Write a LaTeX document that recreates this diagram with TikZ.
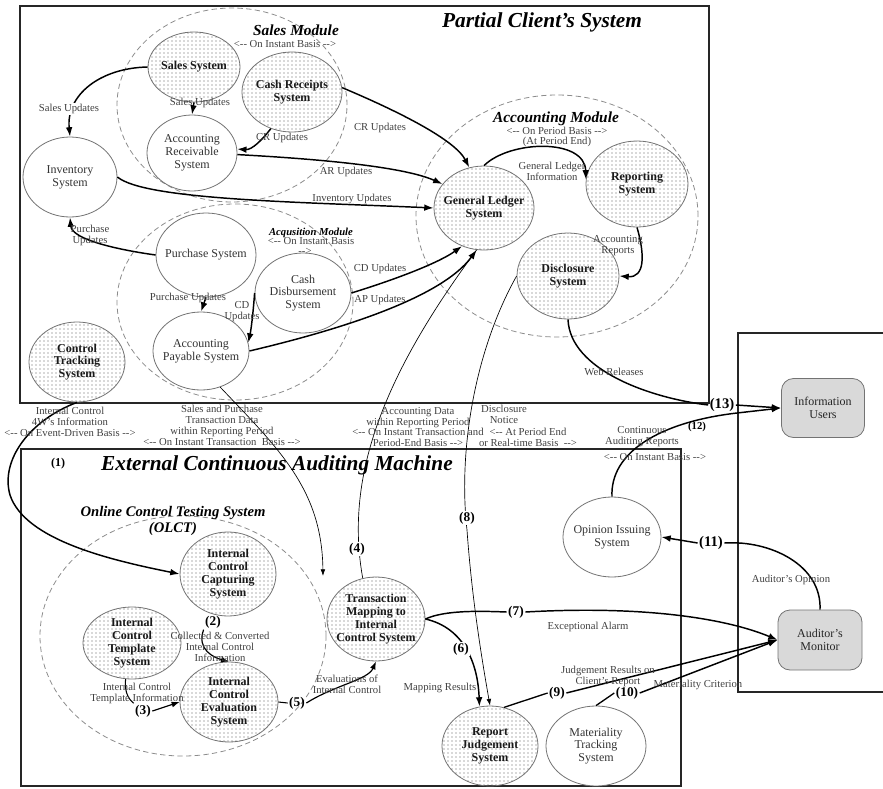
\documentclass[tikz,border=0pt]{standalone}
\usepackage{fontspec}
\setmainfont{Liberation Serif}
\usetikzlibrary{patterns,shapes.geometric,arrows.meta}
\newcommand\myL{<-{}-}
\newcommand\myR{-{}->}
\begin{document}
\begin{tikzpicture}[x=0.75pt,y=-0.75pt,
  ntxt/.style={font=\fontsize{9}{9.6}\selectfont, text=black!80, align=center, inner sep=0pt},
  btxt/.style={font=\bfseries\fontsize{9}{9.6}\selectfont, text=black!90, align=center, inner sep=0pt},
  plainell/.style 2 args={ellipse, draw=black!55, line width=0.6pt, fill=white, minimum width=#1*0.75pt, minimum height=#2*0.75pt, inner sep=0pt},
  dotell/.style 2 args={ellipse, draw=black!55, line width=0.6pt, pattern=dots, pattern color=black!65, minimum width=#1*0.75pt, minimum height=#2*0.75pt, inner sep=0pt},
  modell/.style 2 args={ellipse, draw=black!45, dash pattern=on 4pt off 2.5pt, line width=0.6pt, minimum width=#1*0.75pt, minimum height=#2*0.75pt, inner sep=0pt},
  graybox/.style={rectangle, rounded corners=9pt, draw=black!55, fill=black!15, line width=0.6pt, minimum width=83*0.75pt, minimum height=59*0.75pt, font=\fontsize{9}{10}\selectfont, text=black!85, align=center},
  lbl/.style={font=\fontsize{8}{8.2}\selectfont, text=black!75, align=center, inner sep=0.5pt},
  numl/.style={font=\bfseries\fontsize{10}{10}\selectfont, inner sep=1pt},
  ttl/.style={font=\bfseries\itshape\fontsize{16}{16}\selectfont},
  modttl/.style={font=\bfseries\itshape\fontsize{11.5}{12}\selectfont, align=center},
  boxframe/.style={line width=1.2pt, draw=black!85},
  arr/.style={line width=1.1pt, -{Latex[length=7pt,width=5pt]}},
  thn/.style={line width=0.5pt},
  thnarr/.style={line width=0.5pt, -{Latex[length=5pt,width=3.5pt]}},
]
\useasboundingbox (0,0) rectangle (883,789);

% ---- frames ----
\draw[boxframe] (20,6) rectangle (709,403);
\draw[boxframe] (21,449) rectangle (681,786);
\draw[boxframe] (886,333) -- (738,333) -- (738,692) -- (886,692);

% ---- titles ----
\node[ttl] (t1) at (542,22) {Partial Client's System};
\node[ttl] (t2) at (277,465) {External Continuous Auditing Machine};

% ---- module ellipses ----
\node[modell={230}{194}] (salesmod) at (232,105) {};
\node[modell={282}{242}] (acctmod) at (557,216) {};
\node[modell={236}{196}] (acqmod) at (235,302) {};
\node[modell={286}{240}] (olct) at (183,636) {};

\node[modttl] (smt) at (296,30) {Sales Module};
\node[lbl] (smb) at (285,44) {\myL{} On Instant Basis \myR};
\node[modttl] (amt) at (556,119) {Accounting Module};
\node[lbl, font=\fontsize{8}{7}\selectfont] (amb) at (557,137) {\myL{} On Period Basis \myR\\(At Period End)};
\node[font=\bfseries\itshape\fontsize{8}{8}\selectfont, inner sep=0pt] (aqt) at (311,233) {Acqusition Module};
\node[lbl] (aqb) at (311,241) {\myL{} On Instant Basis};
\node[lbl] (aqc) at (305,251) {\myR};
\node[modttl, font=\bfseries\itshape\fontsize{11}{12.5}\selectfont] (olt) at (173,521) {Online Control Testing System\\(OLCT)};

% ---- system nodes ----
\node[dotell={92}{70}] (sales) at (194,67) {};
\node[btxt] (sales-t) at (sales) {Sales System};
\node[dotell={100}{80}] (cr) at (292,92) {};
\node[btxt] (cr-t) at (cr) {Cash Receipts\\System};
\node[plainell={90}{76}] (ar) at (192,153) {};
\node[ntxt] (ar-t) at (ar) {Accounting\\Receivable\\System};
\node[plainell={94}{80}] (inv) at (70,177) {};
\node[ntxt] (inv-t) at (inv) {Inventory\\System};
\node[dotell={100}{84}] (gl) at (484,208) {};
\node[btxt] (gl-t) at (gl) {General Ledger\\System};
\node[dotell={102}{86}] (rep) at (637,184) {};
\node[btxt] (rep-t) at (rep) {Reporting\\System};
\node[dotell={102}{86}] (dis) at (568,276) {};
\node[btxt] (dis-t) at (dis) {Disclosure\\System};
\node[plainell={100}{84}] (pur) at (206,255) {};
\node[ntxt] (pur-t) at (pur) {Purchase System};
\node[plainell={96}{80}] (cds) at (303,293) {};
\node[ntxt] (cds-t) at (cds) {Cash\\Disbursement\\System};
\node[plainell={96}{78}] (ap) at (201,351) {};
\node[ntxt] (ap-t) at (ap) {Accounting\\Payable System};
\node[dotell={96}{80}] (ctrl) at (77,362) {};
\node[btxt] (ctrl-t) at (ctrl) {Control\\Tracking\\System};
\node[dotell={96}{84}] (cap) at (228,574) {};
\node[btxt] (cap-t) at (cap) {Internal\\Control\\Capturing\\System};
\node[dotell={98}{72}] (tmpl) at (132,643) {};
\node[btxt] (tmpl-t) at (tmpl) {Internal\\Control\\Template\\System};
\node[dotell={98}{80}] (eval) at (229,702) {};
\node[btxt] (eval-t) at (eval) {Internal\\Control\\Evaluation\\System};
\node[dotell={98}{84}] (tm) at (376,619) {};
\node[btxt] (tm-t) at (tm) {Transaction\\Mapping to\\Internal\\Control System};
\node[dotell={96}{80}] (rj) at (490,746) {};
\node[btxt] (rj-t) at (rj) {Report\\Judgement\\System};
\node[plainell={100}{80}] (mat) at (596,746) {};
\node[ntxt] (mat-t) at (mat) {Materiality\\Tracking\\System};
\node[plainell={98}{80}] (op) at (612,537) {};
\node[ntxt] (op-t) at (op) {Opinion Issuing\\System};
\node[graybox] (iu) at (823,408) {Information\\Users};
\node[graybox, minimum width=84*0.75pt, minimum height=60*0.75pt] (am) at (820,640) {Auditor's\\Monitor};

% ---- numbered endpoints ----
\node[numl, font=\bfseries\fontsize{11}{11}\selectfont] (n13) at (722,405) {(13)};
\node[numl, font=\bfseries\fontsize{8}{8}\selectfont] (n12) at (697,427) {(12)};
\node[numl, font=\bfseries\fontsize{9}{9}\selectfont] (n1) at (58,464) {(1)};
\node[numl] (n2) at (213,622) {(2)};
\node[numl] (n3) at (143,711) {(3)};
\node[numl] (n5) at (297,703) {(5)};
\node[numl] (n7) at (516,612) {(7)};
\node[numl] (n9) at (557,693) {(9)};
\node[numl] (n10) at (627,693) {(10)};
\node[numl, font=\bfseries\fontsize{11}{11}\selectfont] (n11) at (711,543) {(11)};
\coordinate (spend) at (323,576);

% ---- client edges ----
\draw[arr] (sales.west) .. controls (100,68) and (66,95) .. (inv.north);
\draw[arr] (sales.south) -- (ar.north);
\draw[arr] (cr.240) .. controls (262,140) and (252,150) .. (ar.5);
\draw[arr] (ar.-2) .. controls (300,158) and (400,165) .. (gl.150);
\draw[arr] (cr.5) .. controls (400,112) and (455,140) .. (gl.110);
\draw[arr] (inv.east) .. controls (145,200) and (300,202) .. (gl.west);
\draw[arr] (pur.west) .. controls (120,250) and (72,240) .. (inv.south);
\draw[arr] (pur.south) -- (ap.north);
\draw[arr] (cds.west) .. controls (253,315) and (251,330) .. (ap.10);
\draw[arr] (cds.east) .. controls (400,278) and (440,262) .. (gl.-120);
\draw[arr] (ap.east) .. controls (330,332) and (440,300) .. (gl.-100);
\draw[arr] (gl.north) .. controls (510,140) and (585,138) .. (rep.175);
\draw[arr] (rep.south) .. controls (645,255) and (645,278) .. (dis.east);
\draw[line width=1.1pt] (dis.south) .. controls (570,370) and (650,398) .. (n13.west);
\draw[arr] (n13.east) -- (iu.west);
\draw[arr] (op.north) .. controls (610,452) and (660,422) .. (737,413) -- (iu.west);

% ---- cross edges ----
\draw[arr] (ctrl.south) .. controls (30,420) and (0,460) .. (10,495) .. controls (25,540) and (110,560) .. (cap.west);
\draw[thnarr] (ap.-62) .. controls (280,450) and (322,490) .. (spend);
\draw[thn] (tm.108) .. controls (345,480) and (380,380) .. (gl.-100);
\draw[thnarr] (dis.west) .. controls (475,350) and (458,450) .. (467,530) .. controls (472,600) and (482,660) .. (rj.north);

% ---- machine edges ----
\draw[line width=0.9pt, -{Latex[length=6pt,width=4.5pt]}] (n2.south west) .. controls (196,650) and (215,658) .. (eval.north);
\draw[line width=0.8pt] (tmpl.-100) .. controls (124,694) and (130,700) .. (n3.north west);
\draw[line width=0.9pt, -{Latex[length=6pt,width=4.5pt]}] (n3.east) -- (eval.west);
\draw[line width=0.8pt] (eval.east) -- (n5.west);
\draw[line width=0.9pt, -{Latex[length=6pt,width=4.5pt]}] (n5.east) .. controls (335,685) and (368,680) .. (tm.south);
\draw[arr] (tm.east) .. controls (465,628) and (478,665) .. (rj.105);
\draw[line width=1.1pt] (tm.east) .. controls (445,610) and (480,611) .. (n7.west);
\draw[arr] (n7.east) .. controls (650,605) and (730,620) .. (am.west);
\draw[line width=1pt] (rj.70) -- (n9.west);
\draw[arr] (n9.east) -- (am.west);
\draw[line width=1pt] (mat.north) -- (n10.west);
\draw[arr] (n10.east) -- (am.west);
\draw[line width=1.1pt] (am.north) .. controls (822,565) and (770,540) .. (n11.east);
\draw[arr] (n11.west) -- (op.east);

% ---- labels on lines ----
\node[numl, fill=white] (n4) at (357,549) {(4)};
\node[numl, fill=white] (n8) at (467,518) {(8)};
\node[numl, fill=white] (n6) at (461,649) {(6)};

% ---- edge labels ----
\node[lbl, fill=white] (lsu1) at (69,109) {Sales Updates};
\node[lbl] (lsu2) at (200,103) {Sales Updates};
\node[lbl] (lcr1) at (282,138) {CR Updates};
\node[lbl] (lcr2) at (380,128) {CR Updates};
\node[lbl] (lar) at (346,172) {AR Updates};
\node[lbl] (linv) at (352,199) {Inventory Updates};
\node[lbl] (lgli) at (552,171) {General Ledger\\Information};
\node[lbl] (lacr) at (618,246) {Accounting\\Reports};
\node[lbl] (lpu1) at (90,235) {Purchase\\Updates};
\node[lbl] (lpu2) at (188,298) {Purchase Updates};
\node[lbl] (lcd1) at (242,312) {CD\\Updates};
\node[lbl] (lcd2) at (380,269) {CD Updates};
\node[lbl] (lap) at (380,300) {AP Updates};
\node[lbl] (lweb) at (614,372) {Web Releases};

% ---- strip labels ----
\node[lbl] (s1) at (70,422) {Internal Control\\4W's Information\\\myL{} On Event-Driven Basis \myR};
\node[lbl] (s2) at (222,425) {Sales and Purchase\\Transaction Data\\within Reporting Period\\\myL{} On Instant Transaction\ \ Basis \myR};
\node[lbl] (s3) at (418,427) {Accounting Data\\within Reporting Period\\\myL{} On Instant Transaction and\\Period-End Basis \myR};
\node[lbl] (s4) at (504,414) {Disclosure\\Notice};
\node[lbl] (s5) at (528,437) {\myL{} At Period End\\or Real-time Basis \ \myR};
\node[lbl] (s6) at (642,437) {Continuous\\Auditing Reports};
\node[lbl] (s7) at (655,457) {\myL{} On Instant Basis \myR};

% ---- machine labels ----
\node[lbl] (lcc) at (220,647) {Collected \& Converted\\Internal Control\\Information};
\node[lbl] (lict) at (137,693) {Internal Control\\Template Information};
\node[lbl] (leic) at (347,684) {Evaluations of\\Internal Control};
\node[lbl] (lea) at (588,627) {Exceptional Alarm};
\node[lbl] (lmr) at (440,688) {Mapping Results};
\node[lbl] (ljr) at (608,676) {Judgement Results on\\Client's Report};
\node[lbl] (lmc) at (698,685) {Materiality Criterion};
\node[lbl] (lao) at (791,580) {Auditor's Opinion};
\end{tikzpicture}
\end{document}
